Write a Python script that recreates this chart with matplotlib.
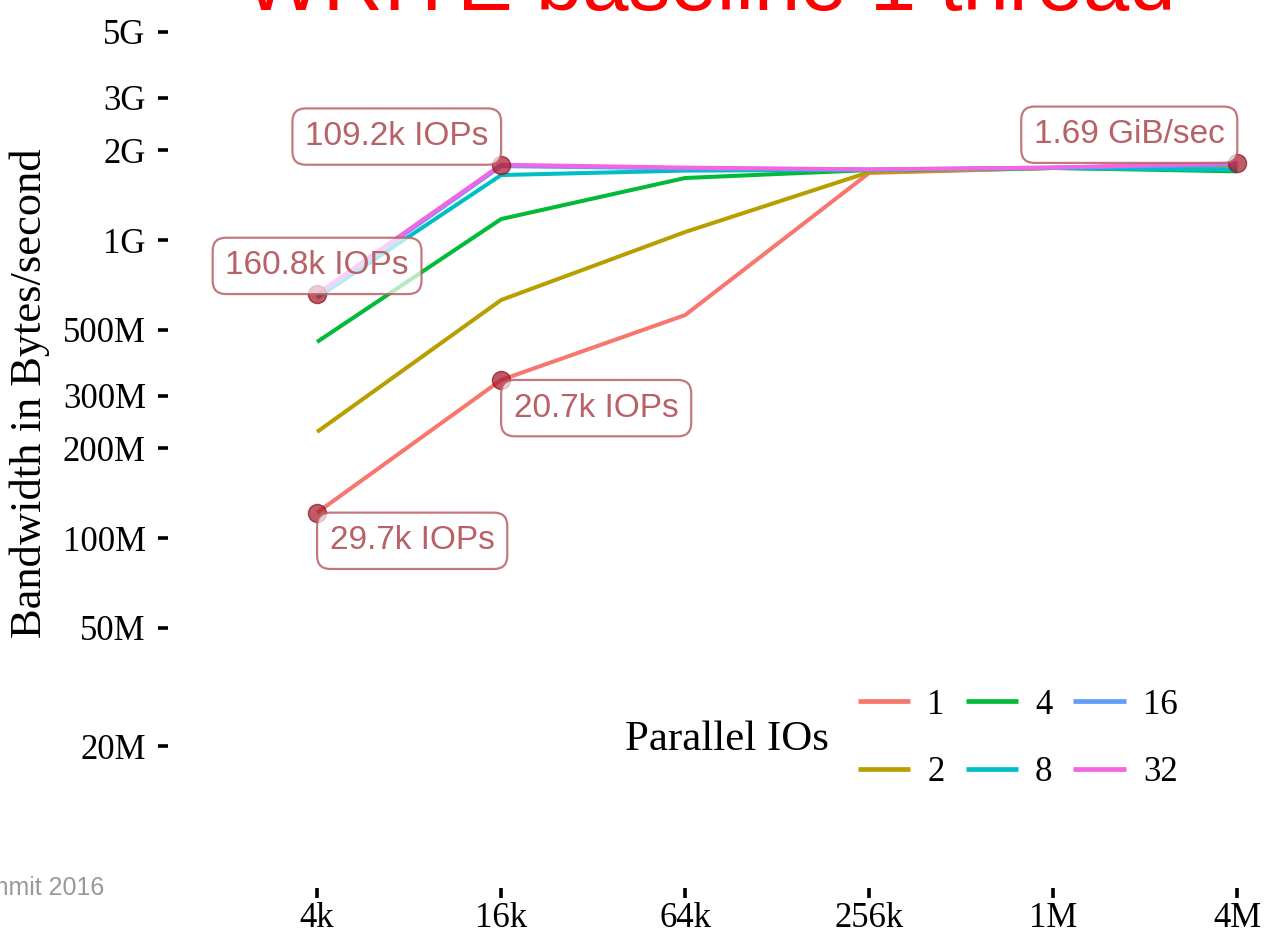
import numpy as np
import matplotlib
matplotlib.use('Agg')
import matplotlib.pyplot as plt
from matplotlib.ticker import FixedLocator, NullLocator

# block sizes on the x axis
size_labels = ['4k', '16k', '64k', '256k', '1M', '4M']
block_bytes = [4096, 16384, 65536, 262144, 1048576, 4194304]

# write bandwidth in MB/s (1e6 bytes) per number of parallel IOs
parallel = ['1', '2', '4', '8', '16', '32']
bw_1 = [121.65, 339.15, 560, 1680, 1745, 1800]
bw_2 = [227, 629, 1064, 1690, 1745, 1760]
bw_4 = [455, 1176, 1615, 1717, 1745, 1700]
bw_8 = [640, 1652, 1710, 1720, 1745, 1720]
bw_16 = [650, 1770, 1740, 1725, 1750, 1790]
bw_32 = [658.64, 1789.13, 1750, 1725, 1750, 1814.6]
series = [bw_1, bw_2, bw_4, bw_8, bw_16, bw_32]

colors = ['#F8766D', '#B79F00', '#00BA38', '#00BFC4', '#619CFF', '#F564E3']

# y axis ticks
ytick_vals = [20e6, 50e6, 100e6, 200e6, 300e6, 500e6, 1e9, 2e9, 3e9, 5e9]
ytick_labels = ['20M', '50M', '100M', '200M', '300M', '500M', '1G', '2G', '3G', '5G']

serif = 'Liberation Serif'
sans = 'Liberation Sans'
label_col = (0.72, 0.38, 0.40)

W, H = 1264, 934
fig = plt.figure(figsize=(W / 100, H / 100), dpi=100)
fig.patch.set_facecolor('white')
ax = fig.add_axes([168 / W, 1 - 888 / H, (W - 168) / W, 888 / H])

x = np.array(block_bytes, dtype=float)
for name, vals, c in zip(parallel, series, colors):
    ax.plot(x, np.array(vals) * 1e6, color=c, lw=2.9, label=name,
            solid_capstyle='butt', clip_on=False)

ax.set_xscale('log', base=2)
ax.set_yscale('log')
ax.set_xlim(2 ** 10.38, 2 ** 22.29)
ax.set_ylim(6.69e6, 6.39e9)

ax.xaxis.set_major_locator(FixedLocator(block_bytes))
ax.set_xticklabels(size_labels)
ax.xaxis.set_minor_locator(NullLocator())
ax.yaxis.set_major_locator(FixedLocator(ytick_vals))
ax.set_yticklabels(ytick_labels)
ax.yaxis.set_minor_locator(NullLocator())

ax.tick_params(axis='both', direction='out', length=7, width=2.6, color='black',
               labelsize=25, labelcolor='black')
ax.tick_params(axis='y', pad=9)
ax.tick_params(axis='x', pad=3)
for lab in ax.get_xticklabels() + ax.get_yticklabels():
    lab.set_family(serif)
for s in ax.spines.values():
    s.set_visible(False)
ax.set_facecolor('white')

# highlighted points with their labels
def mark(xv, yv, text, ha, va):
    pad = 0.38 * 24
    dx = {'left': pad, 'right': -pad, 'center': 0}[ha]
    dy = {'bottom': pad, 'top': -pad}[va]
    ax.scatter([xv], [yv], s=170, color='#a61c2c', alpha=0.72, zorder=5, clip_on=False,
               edgecolors='#8b1020', linewidths=1)
    ax.annotate(text, xy=(xv, yv), xytext=(dx, dy), textcoords='offset points',
                ha=ha, va=va, fontsize=24, family=sans, color=label_col, zorder=6,
                annotation_clip=False,
                bbox=dict(boxstyle='round,pad=0.38,rounding_size=0.4',
                          fc=(1, 1, 1, 0.7), ec=label_col + (0.85,), lw=1.6))

def iops_text(bw, bs):
    return '%.1fk IOPs' % (bw * 1e6 / bs / 1000)

mark(block_bytes[0], bw_32[0] * 1e6, iops_text(bw_32[0], block_bytes[0]), 'center', 'bottom')
mark(block_bytes[1], bw_32[1] * 1e6, iops_text(bw_32[1], block_bytes[1]), 'right', 'bottom')
mark(block_bytes[0], bw_1[0] * 1e6, iops_text(bw_1[0], block_bytes[0]), 'left', 'top')
mark(block_bytes[1], bw_1[1] * 1e6, iops_text(bw_1[1], block_bytes[1]), 'left', 'top')
mark(block_bytes[5], bw_32[5] * 1e6, '%.2f GiB/sec' % (bw_32[5] * 1e6 / 2 ** 30), 'right', 'bottom')

# legend, title sits to the left
leg = ax.legend(loc='center left', bbox_to_anchor=(858 / W, 1 - 739 / H),
                bbox_transform=fig.transFigure, ncol=3, frameon=False,
                prop={'family': serif, 'size': 25}, handlelength=1.5,
                handletextpad=0.5, columnspacing=0.6, labelspacing=1.0,
                borderpad=0, borderaxespad=0)
for h in leg.get_lines():
    h.set_linewidth(3.4)
fig.text(625 / W, 1 - 740 / H, 'Parallel IOs', family=serif, fontsize=31,
         ha='left', va='center')

fig.text(30 / W, 1 - 393 / H, 'Bandwidth in Bytes/second', family=serif, fontsize=32,
         rotation=90, ha='center', va='center')

fig.text(709.5 / W, 1 - 10 / H, 'WRITE baseline 1 thread', family=sans, fontsize=60,
         color='red', ha='center', va='baseline')
fig.text(104 / W, 1 - 895 / H, 'Summit 2016', family=sans, fontsize=18,
         color='#999999', ha='right', va='baseline')

fig.savefig('out.png', dpi=100, facecolor='white')
